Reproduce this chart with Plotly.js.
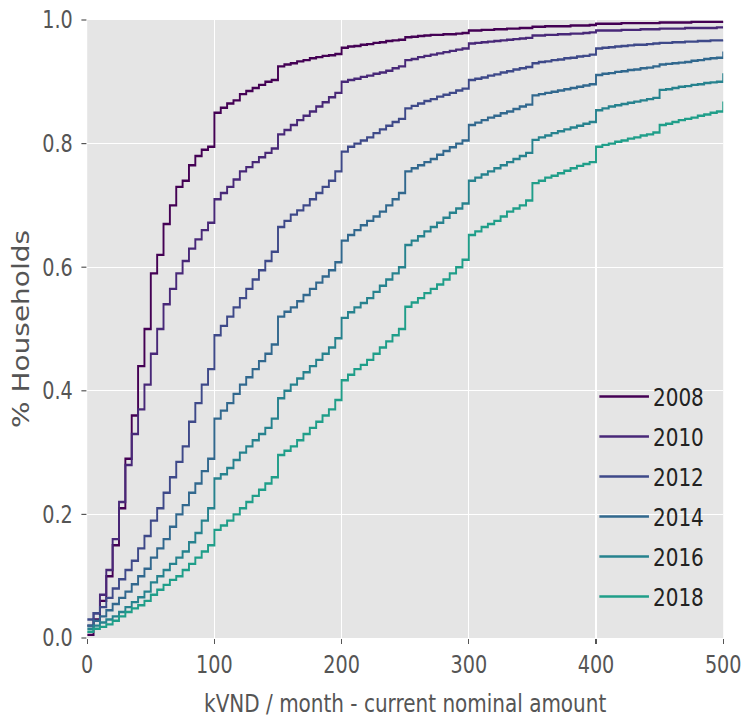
<!DOCTYPE html>
<html><head><meta charset="utf-8">
<script src="https://cdn.plot.ly/plotly-3.0.1.min.js"></script>
<style>
html,body{margin:0;padding:0;overflow:hidden;background:#fff;width:744px;height:727px;}
#wrap{width:744px;height:727px;overflow:hidden;position:relative;}
#chart{position:absolute;left:0;top:0;transform-origin:0 0;}
</style></head><body><div id="wrap"><div id="chart"></div></div>
<script>
// x positions (kVND / month), every 5
const xs = [0,5,10,15,20,25,30,35,40,45,50,55,60,65,70,75,80,85,90,95,
  100,105,110,115,120,125,130,135,140,145,150,155,160,165,170,175,180,185,190,195,
  200,205,210,215,220,225,230,235,240,245,250,255,260,265,270,275,280,285,290,295,
  300,305,310,315,320,325,330,335,340,345,350,355,360,365,370,375,380,385,390,395,
  400,405,410,415,420,425,430,435,440,445,450,455,460,465,470,475,480,485,490,495,500];

const years = ['2008','2010','2012','2014','2016','2018'];

const y2008 = [0.005,0.03,0.06,0.10,0.15,0.21,0.29,0.36,0.44,0.50,0.59,0.62,0.67,0.70,0.73,0.74,0.765,0.78,0.79,0.795,
  0.85,0.858,0.865,0.87,0.88,0.885,0.89,0.895,0.90,0.903,0.925,0.928,0.93,0.933,0.935,0.938,0.94,0.942,0.943,0.945,
  0.955,0.957,0.958,0.96,0.961,0.963,0.964,0.966,0.967,0.968,0.972,0.973,0.974,0.975,0.976,0.976,0.977,0.977,0.978,0.979,
  0.983,0.983,0.984,0.984,0.985,0.985,0.986,0.986,0.987,0.987,0.989,0.989,0.99,0.99,0.99,0.99,0.991,0.991,0.991,0.992,
  0.994,0.994,0.994,0.994,0.995,0.995,0.995,0.995,0.995,0.995,0.996,0.996,0.996,0.996,0.996,0.997,0.997,0.997,0.997,0.997,0.998];

const y2010 = [0.02,0.04,0.07,0.11,0.16,0.22,0.28,0.33,0.37,0.41,0.46,0.50,0.54,0.565,0.59,0.61,0.63,0.645,0.66,0.672,
  0.71,0.72,0.73,0.742,0.755,0.762,0.77,0.778,0.785,0.792,0.815,0.822,0.83,0.838,0.845,0.852,0.86,0.867,0.875,0.882,
  0.90,0.903,0.905,0.908,0.91,0.913,0.915,0.918,0.922,0.925,0.935,0.937,0.94,0.942,0.944,0.946,0.948,0.95,0.952,0.954,
  0.962,0.963,0.964,0.965,0.966,0.967,0.968,0.969,0.97,0.971,0.975,0.975,0.976,0.976,0.977,0.977,0.978,0.978,0.979,0.98,
  0.983,0.983,0.983,0.983,0.984,0.984,0.984,0.985,0.985,0.985,0.986,0.986,0.986,0.986,0.987,0.987,0.987,0.987,0.987,0.988,0.988];

const y2012 = [0.03,0.04,0.05,0.065,0.08,0.095,0.11,0.125,0.145,0.165,0.19,0.21,0.235,0.26,0.285,0.31,0.35,0.38,0.41,0.435,
  0.49,0.505,0.52,0.535,0.55,0.565,0.58,0.595,0.61,0.625,0.665,0.675,0.685,0.692,0.70,0.71,0.72,0.73,0.74,0.755,
  0.787,0.795,0.80,0.805,0.81,0.817,0.823,0.829,0.835,0.84,0.857,0.861,0.865,0.869,0.872,0.876,0.879,0.882,0.886,0.889,
  0.903,0.905,0.907,0.91,0.912,0.915,0.917,0.92,0.922,0.924,0.93,0.932,0.933,0.935,0.936,0.938,0.939,0.941,0.942,0.944,
  0.954,0.955,0.956,0.957,0.958,0.959,0.96,0.96,0.961,0.962,0.963,0.963,0.964,0.964,0.965,0.965,0.966,0.966,0.967,0.967,0.968];

const y2014 = [0.02,0.028,0.035,0.045,0.055,0.065,0.075,0.087,0.10,0.112,0.13,0.145,0.16,0.18,0.20,0.215,0.235,0.25,0.27,0.29,
  0.355,0.368,0.38,0.395,0.41,0.422,0.435,0.448,0.46,0.475,0.52,0.528,0.535,0.545,0.555,0.565,0.575,0.585,0.595,0.608,
  0.643,0.652,0.66,0.668,0.675,0.682,0.69,0.70,0.71,0.72,0.755,0.76,0.765,0.77,0.775,0.782,0.788,0.794,0.80,0.805,
  0.83,0.834,0.838,0.842,0.845,0.849,0.852,0.856,0.86,0.863,0.878,0.88,0.882,0.884,0.886,0.888,0.89,0.892,0.894,0.896,
  0.911,0.913,0.914,0.916,0.917,0.919,0.92,0.922,0.923,0.925,0.928,0.929,0.93,0.931,0.932,0.934,0.935,0.937,0.938,0.939,0.949];

const y2016 = [0.015,0.02,0.025,0.03,0.035,0.042,0.05,0.058,0.066,0.075,0.09,0.10,0.11,0.12,0.13,0.14,0.155,0.17,0.19,0.21,
  0.258,0.265,0.275,0.288,0.30,0.31,0.32,0.33,0.34,0.355,0.388,0.40,0.41,0.42,0.43,0.44,0.45,0.46,0.47,0.485,
  0.518,0.527,0.535,0.542,0.55,0.56,0.57,0.58,0.59,0.60,0.636,0.643,0.65,0.658,0.665,0.672,0.68,0.688,0.695,0.703,
  0.74,0.745,0.75,0.755,0.76,0.765,0.77,0.775,0.78,0.785,0.806,0.81,0.813,0.817,0.82,0.823,0.826,0.829,0.832,0.835,
  0.854,0.857,0.86,0.862,0.864,0.866,0.868,0.87,0.872,0.874,0.887,0.888,0.89,0.892,0.893,0.895,0.896,0.898,0.899,0.90,0.914];

const y2018 = [0.01,0.015,0.018,0.022,0.028,0.035,0.042,0.048,0.053,0.06,0.07,0.078,0.086,0.094,0.10,0.11,0.12,0.13,0.14,0.15,
  0.175,0.182,0.19,0.20,0.21,0.22,0.23,0.24,0.25,0.26,0.296,0.303,0.31,0.32,0.33,0.34,0.35,0.36,0.37,0.385,
  0.417,0.426,0.435,0.442,0.45,0.46,0.47,0.48,0.49,0.50,0.536,0.543,0.55,0.558,0.565,0.572,0.58,0.59,0.60,0.612,
  0.652,0.658,0.665,0.67,0.675,0.682,0.69,0.695,0.70,0.708,0.736,0.74,0.745,0.748,0.752,0.756,0.76,0.764,0.767,0.77,
  0.795,0.798,0.80,0.803,0.805,0.808,0.81,0.813,0.815,0.818,0.83,0.832,0.835,0.838,0.84,0.842,0.845,0.847,0.85,0.852,0.868];

const series = [y2008, y2010, y2012, y2014, y2016, y2018];
const xTicks = [0,100,200,300,400,500];
const yTicks = [0,0.2,0.4,0.6,0.8,1.0];
const xTitle = 'kVND / month - current nominal amount';
const yTitle = '% Households';

const colors = ['#440154','#482878','#3e4989','#31688e','#26828e','#1f9e89'];

// the reference is horizontally condensed; draw wide and squeeze
const SX = 0.8;
const W = 744 / SX, H = 727;
const el = document.getElementById('chart');
el.style.width = W + 'px';
el.style.height = H + 'px';
el.style.transform = 'scaleX(' + SX + ')';

const FONT = 'DejaVu Sans, sans-serif';
const traces = series.map((ys, i) => ({
  type: 'scatter', mode: 'lines', x: xs, y: ys, name: years[i], legendgroup: years[i],
  line: {shape: 'hv', width: 2.4, color: colors[i]}
}));

const layout = {
  width: W, height: H,
  margin: {l: 87 / SX, r: 21 / SX, t: 20, b: 89},
  paper_bgcolor: '#ffffff', plot_bgcolor: '#E5E5E5',
  font: {family: FONT, color: '#555555'},
  showlegend: true,
  legend: {x: 0.799, xanchor: 'left', y: 0.4275, yanchor: 'top', bgcolor: 'rgba(0,0,0,0)',
    font: {family: FONT, size: 25, color: '#222222'}, traceorder: 'grouped', tracegroupgap: 4.5,
    itemwidth: 62},
  xaxis: {range: [0, 500], tickvals: xTicks, ticktext: xTicks.map(String), ticks: 'outside', ticklen: 5,
    tickwidth: 1.4, tickcolor: '#555555', showgrid: true, gridcolor: '#ffffff', gridwidth: 1.7,
    zeroline: false, showline: false, tickfont: {family: FONT, size: 24, color: '#555555'},
    title: {text: xTitle, font: {family: FONT, size: 25, color: '#555555'}, standoff: 16}},
  yaxis: {range: [0, 1], tickvals: yTicks, tickformat: '.1f', ticks: 'outside', ticklen: 6.25,
    tickwidth: 1.2, tickcolor: '#555555', showgrid: true, gridcolor: '#ffffff', gridwidth: 1.4,
    zeroline: false, showline: false, ticklabelstandoff: 6, tickfont: {family: FONT, size: 24, color: '#555555'},
    title: {text: yTitle, font: {family: FONT, size: 28, color: '#555555'}, standoff: 7}}
};

Plotly.newPlot(el, traces, layout, {displayModeBar: false, staticPlot: true});
</script></body></html>
